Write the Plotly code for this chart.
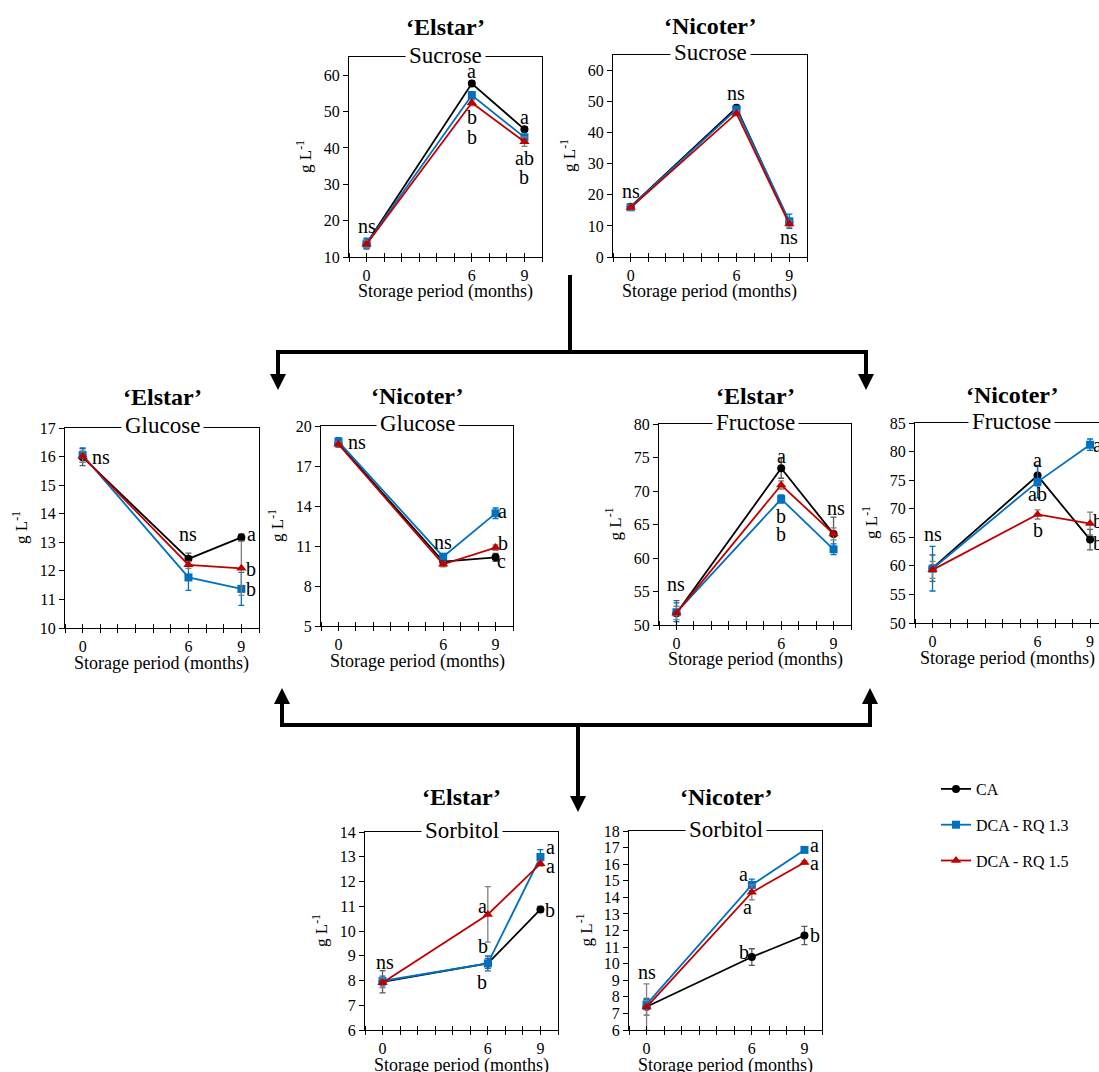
import plotly.graph_objects as go

W, H = 1099, 1072
FONT = "Liberation Serif"

months = [0, 6, 9]
series_names = ["CA", "DCA - RQ 1.3", "DCA - RQ 1.5"]

# ---- Elstar sucrose
es_suc_ca = [13.7, 57.7, 45.1]
es_suc_ca_err = [1.3, 0.8, 0.6]
es_suc_rq13 = [13.7, 54.5, 42.9]
es_suc_rq13_err = [1.5, 1.0, 0.8]
es_suc_rq15 = [13.5, 52.4, 41.7]
es_suc_rq15_err = [1.0, 0.8, 1.3]
es_suc_lbl_x = [0, 6, 6, 6, 9, 9, 9]
es_suc_lbl_y = [18.4, 61.1, 48.4, 43.0, 48.4, 37.1, 32.0]
es_suc_lbl_t = ["ns", "a", "b", "b", "a", "ab", "b"]

# ---- Nicoter sucrose
ni_suc_ca = [16.2, 48.0, 11.2]
ni_suc_ca_err = [0.8, 0.8, 1.0]
ni_suc_rq13 = [16.0, 47.5, 11.5]
ni_suc_rq13_err = [0.8, 0.8, 2.3]
ni_suc_rq15 = [15.9, 46.2, 10.6]
ni_suc_rq15_err = [0.7, 0.8, 1.0]
ni_suc_lbl_x = [0, 6, 9]
ni_suc_lbl_y = [21.2, 52.9, 6.4]
ni_suc_lbl_t = ["ns", "ns", "ns"]

# ---- Elstar glucose
es_glu_ca = [15.98, 12.42, 13.17]
es_glu_ca_err = [0.3, 0.2, 0.12]
es_glu_rq13 = [16.05, 11.77, 11.37]
es_glu_rq13_err = [0.25, 0.45, 0.58]
es_glu_rq15 = [16.0, 12.21, 12.09]
es_glu_rq15_err = [0.2, 0.12, 0.95]
es_glu_lbl_x = [1.05, 6, 9.55, 9.55, 9.55]
es_glu_lbl_y = [16.0, 13.28, 13.29, 12.08, 11.36]
es_glu_lbl_t = ["ns", "ns", "a", "b", "b"]

# ---- Nicoter glucose
ni_glu_ca = [18.7, 9.83, 10.15]
ni_glu_ca_err = [0.3, 0.2, 0.3]
ni_glu_rq13 = [18.83, 10.2, 13.45]
ni_glu_rq13_err = [0.3, 0.2, 0.4]
ni_glu_rq15 = [18.63, 9.63, 10.88]
ni_glu_rq15_err = [0.2, 0.2, 0.2]
ni_glu_lbl_x = [1.05, 6, 9.4, 9.4, 9.35]
ni_glu_lbl_y = [18.8, 11.3, 13.6, 11.2, 9.9]
ni_glu_lbl_t = ["ns", "ns", "a", "b", "c"]

# ---- Elstar fructose
es_fru_ca = [51.75, 73.4, 63.6]
es_fru_ca_err = [1.9, 1.5, 2.5]
es_fru_rq13 = [51.9, 68.8, 61.3]
es_fru_rq13_err = [1.4, 0.6, 0.8]
es_fru_rq15 = [51.8, 70.9, 63.6]
es_fru_rq15_err = [1.0, 0.6, 0.9]
es_fru_lbl_x = [0, 6, 6, 6, 9.15]
es_fru_lbl_y = [56.1, 75.2, 66.2, 63.6, 67.4]
es_fru_lbl_t = ["ns", "a", "b", "b", "ns"]

# ---- Nicoter fructose
ni_fru_ca = [59.6, 75.8, 64.6]
ni_fru_ca_err = [2.3, 1.8, 1.8]
ni_fru_rq13 = [59.5, 74.7, 81.2]
ni_fru_rq13_err = [3.9, 2.8, 1.0]
ni_fru_rq15 = [59.3, 69.0, 67.4]
ni_fru_rq15_err = [1.5, 0.8, 2.0]
ni_fru_lbl_x = [0, 6, 6, 6, 9.45, 9.45, 9.45]
ni_fru_lbl_y = [65.5, 78.5, 72.5, 66.3, 81.2, 67.8, 64.0]
ni_fru_lbl_t = ["ns", "a", "ab", "b", "a", "b", "b"]

# ---- Elstar sorbitol
es_sor_ca = [7.95, 8.69, 10.87]
es_sor_ca_err = [0.45, 0.2, 0.12]
es_sor_rq13 = [7.98, 8.69, 12.99]
es_sor_rq13_err = [0.2, 0.3, 0.3]
es_sor_rq15 = [7.91, 10.67, 12.72]
es_sor_rq15_err = [0.2, 1.12, 0.1]
es_sor_lbl_x = [0.15, 5.7, 5.75, 5.65, 9.55, 9.55, 9.55]
es_sor_lbl_y = [8.76, 11.0, 9.4, 7.92, 13.4, 12.62, 10.84]
es_sor_lbl_t = ["ns", "a", "b", "b", "a", "a", "b"]

# ---- Nicoter sorbitol
ni_sor_ca = [7.4, 10.4, 11.7]
ni_sor_ca_err = [0.5, 0.5, 0.55]
ni_sor_rq13 = [7.54, 14.75, 16.86]
ni_sor_rq13_err = [0.3, 0.35, 0.1]
ni_sor_rq15 = [7.38, 14.3, 16.1]
ni_sor_rq15_err = [1.4, 0.45, 0.1]
ni_sor_lbl_x = [0.05, 5.55, 5.75, 5.55, 9.6, 9.6, 9.6]
ni_sor_lbl_y = [9.5, 15.4, 13.4, 10.7, 17.15, 16.05, 11.75]
ni_sor_lbl_t = ["ns", "a", "a", "b", "a", "a", "b"]

COLORS = ["#000000", "#0070C0", "#C00000"]
ERRCOL = ["#595959", "#0070C0", "#7f7f7f"]
SYMBOLS = ["circle", "square", "triangle-up"]
MSIZE = [8, 8, 9]


def px(x):
    return x / W


def py(y):
    return 1 - y / H


panels = [
    dict(cv="‘Elstar’", sugar="Sucrose", box=(349, 542, 57, 257), yr=[10, 65], t0=10, dt=10, xr=[-1, 10], toff=30,
         data=[(es_suc_ca, es_suc_ca_err), (es_suc_rq13, es_suc_rq13_err), (es_suc_rq15, es_suc_rq15_err)],
         lbl=(es_suc_lbl_x, es_suc_lbl_y, es_suc_lbl_t)),
    dict(cv="‘Nicoter’", sugar="Sucrose", box=(613, 807, 55, 257), yr=[0, 65], t0=0, dt=10, xr=[-1, 10], toff=29,
         data=[(ni_suc_ca, ni_suc_ca_err), (ni_suc_rq13, ni_suc_rq13_err), (ni_suc_rq15, ni_suc_rq15_err)],
         lbl=(ni_suc_lbl_x, ni_suc_lbl_y, ni_suc_lbl_t)),
    dict(cv="‘Elstar’", sugar="Glucose", box=(65, 259, 428, 628), yr=[10, 17], t0=10, dt=1, xr=[-1, 10], toff=31,
         data=[(es_glu_ca, es_glu_ca_err), (es_glu_rq13, es_glu_rq13_err), (es_glu_rq15, es_glu_rq15_err)],
         lbl=(es_glu_lbl_x, es_glu_lbl_y, es_glu_lbl_t)),
    dict(cv="‘Nicoter’", sugar="Glucose", box=(321, 513, 426, 626), yr=[5, 20], t0=5, dt=3, xr=[-1, 10], toff=30,
         data=[(ni_glu_ca, ni_glu_ca_err), (ni_glu_rq13, ni_glu_rq13_err), (ni_glu_rq15, ni_glu_rq15_err)],
         lbl=(ni_glu_lbl_x, ni_glu_lbl_y, ni_glu_lbl_t)),
    dict(cv="‘Elstar’", sugar="Fructose", box=(659, 851, 424, 625), yr=[50, 80], t0=50, dt=5, xr=[-1, 10], toff=28,
         data=[(es_fru_ca, es_fru_ca_err), (es_fru_rq13, es_fru_rq13_err), (es_fru_rq15, es_fru_rq15_err)],
         lbl=(es_fru_lbl_x, es_fru_lbl_y, es_fru_lbl_t)),
    dict(cv="‘Nicoter’", sugar="Fructose", box=(915, 1099, 423, 623), yr=[50, 85], t0=50, dt=5, xr=[-1, 9.51],
         toff=28,
         data=[(ni_fru_ca, ni_fru_ca_err), (ni_fru_rq13, ni_fru_rq13_err), (ni_fru_rq15, ni_fru_rq15_err)],
         lbl=(ni_fru_lbl_x, ni_fru_lbl_y, ni_fru_lbl_t), clipped=True),
    dict(cv="‘Elstar’", sugar="Sorbitol", box=(365, 558, 832, 1030), yr=[6, 14], t0=6, dt=1, xr=[-1, 10], toff=35,
         data=[(es_sor_ca, es_sor_ca_err), (es_sor_rq13, es_sor_rq13_err), (es_sor_rq15, es_sor_rq15_err)],
         lbl=(es_sor_lbl_x, es_sor_lbl_y, es_sor_lbl_t)),
    dict(cv="‘Nicoter’", sugar="Sorbitol", box=(629, 822, 831, 1030), yr=[6, 18], t0=6, dt=1, xr=[-1, 10], toff=34,
         data=[(ni_sor_ca, ni_sor_ca_err), (ni_sor_rq13, ni_sor_rq13_err), (ni_sor_rq15, ni_sor_rq15_err)],
         lbl=(ni_sor_lbl_x, ni_sor_lbl_y, ni_sor_lbl_t)),
]

fig = go.Figure()
annotations = []
layout = {}

for i, p in enumerate(panels):
    n = i + 1
    xs = "" if n == 1 else str(n)
    l, r, t, b = p["box"]
    for k, (vals, err) in enumerate(p["data"]):
        fig.add_trace(go.Scatter(
            x=months, y=vals, xaxis="x" + xs, yaxis="y" + xs,
            mode="lines+markers", name=series_names[k],
            legendgroup=series_names[k], showlegend=(i == 0),
            line=dict(color=COLORS[k], width=1.8),
            marker=dict(color=COLORS[k], symbol=SYMBOLS[k], size=MSIZE[k]),
            error_y=dict(type="data", array=err, visible=True, color=ERRCOL[k], thickness=1.3, width=3),
            cliponaxis=False,
        ))
    xmax = 10 if not p.get("clipped") else 9
    allt = list(range(-1, xmax + 1))
    layout["xaxis" + xs] = dict(
        domain=[px(l), min(px(r), 1.0)], anchor="y" + xs, range=p["xr"], automargin=False,
        tickmode="array", tickvals=allt, ticktext=[str(v) if v in months else "" for v in allt],
        ticks="outside", ticklen=4, tickwidth=1.3, tickcolor="black",
        minor=dict(tickmode="array", tickvals=[v + 0.001 for v in allt], ticks="inside",
                   ticklen=4, tickwidth=1.3, tickcolor="black"),
        showline=True, linecolor="black", linewidth=1.3, mirror=True,
        showgrid=False, zeroline=False, fixedrange=True,
        tickfont=dict(family=FONT, size=16, color="black"),
    )
    layout["yaxis" + xs] = dict(
        domain=[py(b), py(t)], anchor="x" + xs, range=p["yr"], automargin=False,
        tick0=p["t0"], dtick=p["dt"], ticks="outside", ticklen=5, tickwidth=1.3, tickcolor="black",
        showline=True, linecolor="black", linewidth=1.3, mirror=(not p.get("clipped")),
        showgrid=False, zeroline=False, fixedrange=True,
        tickfont=dict(family=FONT, size=16, color="black"),
    )
    cx = (l + r) / 2 if not p.get("clipped") else (l + l + 193) / 2
    # cultivar title
    annotations.append(dict(xref="paper", yref="paper", x=px(cx), y=py(t - p["toff"]),
                            text="<b>" + p["cv"] + "</b>",
                            showarrow=False, font=dict(family=FONT, size=24, color="black"),
                            xanchor="center", yanchor="middle"))
    # sugar label interrupting top frame
    annotations.append(dict(xref="paper", yref="paper", x=px(cx), y=py(t - 2), text=p["sugar"],
                            showarrow=False, font=dict(family=FONT, size=23, color="black"),
                            xanchor="center", yanchor="middle", bgcolor="white", borderpad=3))
    # axis titles
    annotations.append(dict(xref="paper", yref="paper", x=px((l + min(r, l + 193)) / 2), y=py(b + 35),
                            text="Storage period (months)", showarrow=False,
                            font=dict(family=FONT, size=18, color="black"), xanchor="center", yanchor="middle"))
    annotations.append(dict(xref="paper", yref="paper", x=px(l - 45), y=py((t + b) / 2),
                            text="g L<sup>-1</sup>", showarrow=False, textangle=-90,
                            font=dict(family=FONT, size=17, color="black"), xanchor="center", yanchor="middle"))
    # significance letters
    lx, ly, lt = p["lbl"]
    for xv, yv, tv in zip(lx, ly, lt):
        annotations.append(dict(xref="x" + xs, yref="y" + xs, x=xv, y=yv, text=tv, showarrow=False,
                                font=dict(family=FONT, size=20, color="black"),
                                xanchor="center", yanchor="middle"))

# connector lines
shapes = []
LW = 4
for (x0, y0, x1, y1) in [(570, 275, 570, 352), (276, 352, 868, 352),
                         (280, 725, 872, 725), (578, 725, 578, 760)]:
    shapes.append(dict(type="line", xref="paper", yref="paper", x0=px(x0), y0=py(y0), x1=px(x1), y1=py(y1),
                       line=dict(color="black", width=LW)))
# arrowheads
for (hx, hy, ay) in [(278, 390, -40), (866, 390, -40), (282, 688, 39), (870, 688, 39), (578, 812, -89)]:
    annotations.append(dict(xref="paper", yref="paper", x=px(hx), y=py(hy), ax=0, ay=ay, axref="pixel",
                            ayref="pixel", text="", showarrow=True, arrowhead=2, arrowsize=0.8,
                            arrowwidth=LW, arrowcolor="black"))

fig.update_layout(
    width=W, height=H, margin=dict(l=0, r=0, t=0, b=0, autoexpand=False),
    paper_bgcolor="white", plot_bgcolor="white",
    annotations=annotations, shapes=shapes,
    legend=dict(x=px(936), y=py(772), xanchor="left", yanchor="top",
                font=dict(family=FONT, size=16, color="black"),
                tracegroupgap=12, bgcolor="rgba(0,0,0,0)", itemwidth=30),
    font=dict(family=FONT, color="black"),
    **layout,
)

fig.write_html("out.html")
